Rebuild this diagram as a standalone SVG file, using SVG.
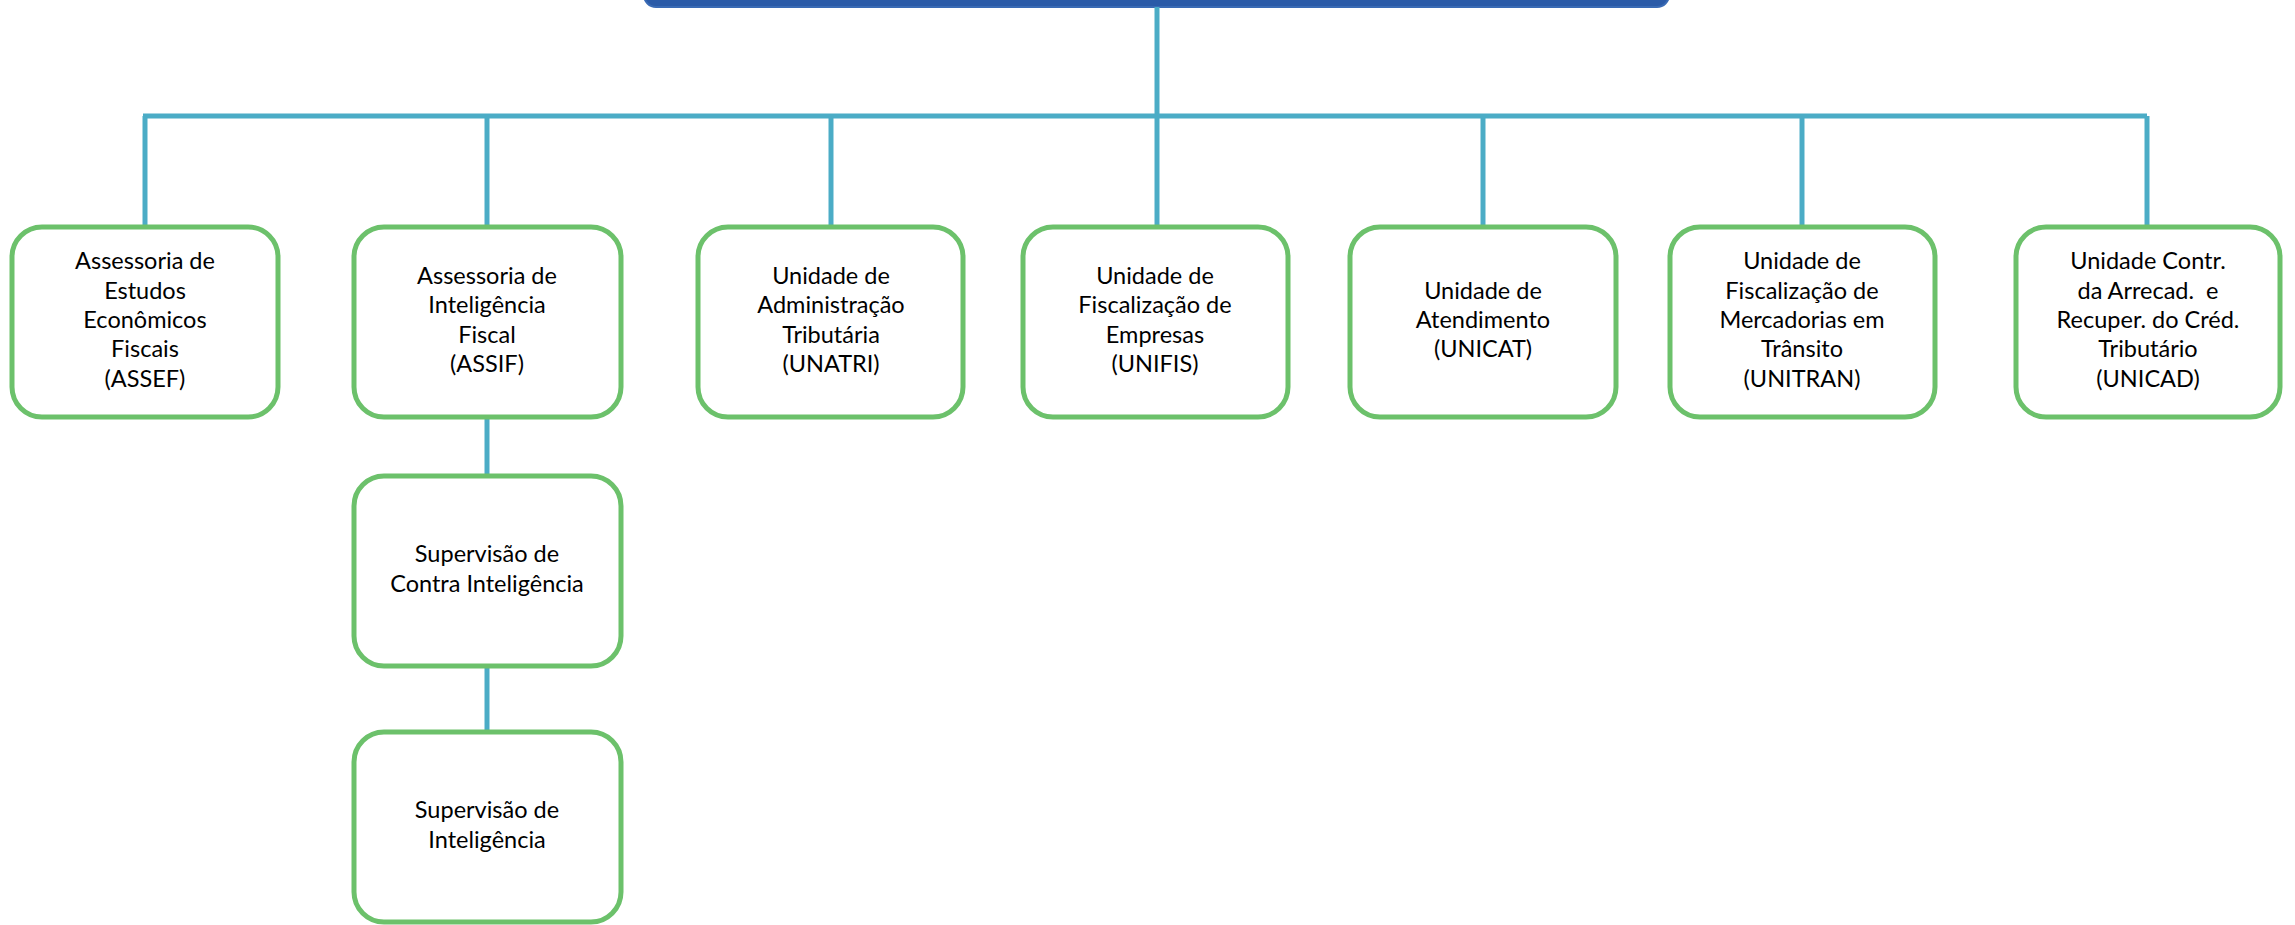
<svg xmlns="http://www.w3.org/2000/svg" width="2295" height="925" viewBox="0 0 2295 925">
<style>
.node rect{fill:#ffffff;stroke:#6CC16B;stroke-width:5}
.node text{font-family:Lato,"Open Sans","Liberation Sans",sans-serif;font-size:23.5px;fill:#000;text-anchor:middle;white-space:pre}
.conn{stroke:#4BACC6;stroke-width:5;fill:none}
</style>
<rect width="2295" height="925" fill="#ffffff"/>
<g id="top">
<rect x="644" y="-60" width="1025" height="67" rx="12" fill="#2B5BA8" stroke="#3A6BB5" stroke-width="2"/>
</g>
<g id="connectors">
<line class="conn" x1="1157" y1="7" x2="1157" y2="116"/>
<line class="conn" x1="143" y1="116" x2="2147" y2="116" stroke-width="6"/>
<line class="conn" x1="145" y1="116" x2="145" y2="227"/>
<line class="conn" x1="487" y1="116" x2="487" y2="227"/>
<line class="conn" x1="831" y1="116" x2="831" y2="227"/>
<line class="conn" x1="1157" y1="116" x2="1157" y2="227"/>
<line class="conn" x1="1483" y1="116" x2="1483" y2="227"/>
<line class="conn" x1="1802" y1="116" x2="1802" y2="227"/>
<line class="conn" x1="2147" y1="116" x2="2147" y2="227"/>
<line class="conn" x1="487" y1="417" x2="487" y2="476"/>
<line class="conn" x1="487" y1="666" x2="487" y2="732"/>
</g>
<g id="assef" class="node">
<rect x="12" y="227" width="266" height="190" rx="30"/>
<text x="145" y="269">Assessoria de</text>
<text x="145" y="299">Estudos</text>
<text x="145" y="328">Econômicos</text>
<text x="145" y="357">Fiscais</text>
<text x="145" y="387">(ASSEF)</text>
</g>
<g id="assif" class="node">
<rect x="354" y="227" width="267" height="190" rx="30"/>
<text x="487" y="284">Assessoria de</text>
<text x="487" y="313">Inteligência</text>
<text x="487" y="343">Fiscal</text>
<text x="487" y="372">(ASSIF)</text>
</g>
<g id="unatri" class="node">
<rect x="698" y="227" width="265" height="190" rx="30"/>
<text x="831" y="284">Unidade de</text>
<text x="831" y="313">Administração</text>
<text x="831" y="343">Tributária</text>
<text x="831" y="372">(UNATRI)</text>
</g>
<g id="unifis" class="node">
<rect x="1023" y="227" width="265" height="190" rx="30"/>
<text x="1155" y="284">Unidade de</text>
<text x="1155" y="313">Fiscalização de</text>
<text x="1155" y="343">Empresas</text>
<text x="1155" y="372">(UNIFIS)</text>
</g>
<g id="unicat" class="node">
<rect x="1350" y="227" width="266" height="190" rx="30"/>
<text x="1483" y="299">Unidade de</text>
<text x="1483" y="328">Atendimento</text>
<text x="1483" y="357">(UNICAT)</text>
</g>
<g id="unitran" class="node">
<rect x="1670" y="227" width="265" height="190" rx="30"/>
<text x="1802" y="269">Unidade de</text>
<text x="1802" y="299">Fiscalização de</text>
<text x="1802" y="328">Mercadorias em</text>
<text x="1802" y="357">Trânsito</text>
<text x="1802" y="387">(UNITRAN)</text>
</g>
<g id="unicad" class="node">
<rect x="2016" y="227" width="264" height="190" rx="30"/>
<text x="2148" y="269">Unidade Contr.</text>
<text x="2148" y="299" xml:space="preserve">da Arrecad.  e</text>
<text x="2148" y="328">Recuper. do Créd.</text>
<text x="2148" y="357">Tributário</text>
<text x="2148" y="387">(UNICAD)</text>
</g>
<g id="sup-contra" class="node">
<rect x="354" y="476" width="267" height="190" rx="30"/>
<text x="487" y="562">Supervisão de</text>
<text x="487" y="592">Contra Inteligência</text>
</g>
<g id="sup-intel" class="node">
<rect x="354" y="732" width="267" height="190" rx="30"/>
<text x="487" y="818">Supervisão de</text>
<text x="487" y="848">Inteligência</text>
</g>
</svg>
